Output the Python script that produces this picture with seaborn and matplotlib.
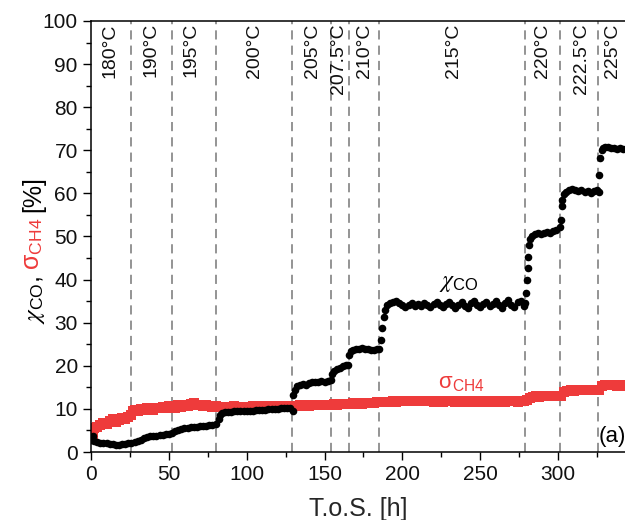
import numpy as np
import pandas as pd
import matplotlib
matplotlib.use("Agg")
import matplotlib.pyplot as plt
from matplotlib.transforms import IdentityTransform, blended_transform_factory
from matplotlib.ticker import MultipleLocator
import seaborn as sns

# ---------------- data ----------------
t_co = [0, 1, 2, 4, 6, 8, 10, 12, 14, 16, 18, 20, 22, 24, 26,
        28, 30, 32, 34, 36, 38, 40, 42, 44, 46, 48, 50, 52,
        54, 56, 58, 60, 62, 64, 66, 68, 70, 72, 74, 76, 78, 80,
        82, 83, 84, 86, 88, 90, 92, 94, 96, 98, 100, 102, 104, 106, 108, 110,
        112, 114, 116, 118, 120, 122, 124, 126, 128,
        129.5, 130, 131, 132, 134, 136, 138, 140, 142, 144, 146, 148, 150, 152, 154,
        155, 156, 158, 160, 162, 164, 165,
        166, 167, 168, 170, 172, 174, 176, 178, 180, 182, 184, 185,
        186, 187, 188, 189, 190, 192, 194, 196, 198, 200, 202, 204, 206, 208, 210,
        212, 214, 216, 218, 220, 222, 224, 226, 228, 230, 232, 234, 236, 238, 240,
        242, 244, 246, 248, 250, 252, 254, 256, 258, 260, 262, 264, 266, 268, 270,
        272, 274, 276, 278, 279,
        279.5, 280, 280.5, 281, 281.5, 282, 283, 285, 287, 289, 291, 293, 295, 297, 299, 301,
        301.8, 302.3, 302.8, 303.5, 305, 307, 309, 311, 313, 315, 317, 319, 321, 323, 325,
        326, 326.5, 327, 328, 329, 330, 332, 334, 336, 338, 340, 342, 344]
co = [2.8, 3.6, 2.6, 2.3, 2.2, 2.0, 2.1, 1.9, 1.8, 1.7, 1.6, 1.8, 1.9, 2.0, 2.1,
      2.3, 2.6, 2.9, 3.2, 3.4, 3.6, 3.6, 3.8, 3.9, 4.0, 4.1, 4.2, 4.3,
      4.8, 5.1, 5.3, 5.5, 5.6, 5.7, 5.8, 5.9, 6.0, 6.0, 6.1, 6.2, 6.3, 6.4,
      7.6, 8.5, 9.0, 9.2, 9.3, 9.3, 9.4, 9.4, 9.5, 9.5, 9.6, 9.6, 9.5, 9.7, 9.7, 9.8,
      9.8, 9.9, 9.9, 10.0, 10.0, 10.1, 10.1, 10.2, 10.1,
      9.4, 13.2, 14.5, 15.2, 15.5, 15.8, 15.6, 16.0, 16.2, 16.3, 16.2, 16.4, 16.3, 16.4, 16.6,
      18.0, 18.8, 19.3, 19.6, 19.9, 20.1, 20.3,
      22.5, 23.4, 23.6, 23.8, 24.0, 24.1, 23.9, 23.8, 23.7, 23.6, 23.8, 24.0,
      26.0, 28.7, 31.4, 33.0, 34.1, 34.6, 34.8, 35.0, 34.5, 34.0, 33.7, 34.2, 34.5, 33.9, 34.3,
      33.8, 34.6, 34.0, 33.6, 34.4, 34.8, 34.1, 33.7, 34.3, 34.9, 34.0, 33.5, 34.2, 34.8, 33.9,
      33.4, 34.5, 35.0, 34.1, 33.6, 34.3, 34.9, 33.8, 34.4, 35.1, 34.0, 33.5, 34.6, 35.2, 34.1,
      33.6, 34.8, 35.0, 33.8, 34.5,
      37.0, 40.0, 42.7, 45.3, 48.0, 49.5, 50.2, 50.6, 50.8, 50.5, 50.9, 51.0, 50.8, 51.2, 51.5, 52.3,
      53.8, 57.0, 58.5, 59.8, 60.3, 60.8, 61.0, 60.7, 60.5, 60.9, 60.4, 60.6, 60.2, 60.5, 60.8,
      60.4, 64.3, 68.2, 70.0, 70.6, 70.8, 70.7, 70.5, 70.6, 70.4, 70.5, 70.3, 70.4]

t_ch4 = [0, 1, 2, 4, 6, 8, 10, 12, 14, 16, 18, 20, 22, 24, 26,
         27, 28, 30, 32, 34, 36, 38, 40, 42, 44, 46, 48, 50, 52,
         54, 56, 58, 60, 62, 64, 66, 68, 70, 72, 74, 76, 78, 80,
         82, 84, 86, 88, 90, 92, 94, 96, 98, 100, 102, 104, 106, 108, 110,
         112, 114, 116, 118, 120, 122, 124, 126, 128, 130, 132, 134, 136, 138, 140,
         142, 144, 146, 148, 150, 152, 154, 156, 158, 160, 162, 164, 166, 168, 170,
         172, 174, 176, 178, 180, 182, 184, 186, 188, 190, 192, 194, 196, 198, 200,
         202, 204, 206, 208, 210, 212, 214, 216, 218, 220, 222, 224, 226, 228, 230,
         232, 234, 236, 238, 240, 242, 244, 246, 248, 250, 252, 254, 256, 258, 260,
         262, 264, 266, 268, 270, 272, 274, 276, 278, 280, 282, 284, 286, 288, 290,
         292, 294, 296, 298, 300, 302, 304, 306, 308, 310, 312, 314, 316, 318, 320,
         322, 324, 326, 328, 330, 332, 334, 336, 338, 340, 342, 344]
ch4 = [5.0, 4.2, 5.6, 5.8, 6.2, 6.8, 6.5, 7.2, 7.6, 7.0, 7.4, 8.0, 7.6, 8.2, 8.6,
       9.6, 9.8, 9.4, 10.0, 9.7, 10.2, 10.0, 9.8, 10.3, 10.1, 10.5, 10.2, 10.6, 10.4,
       10.3, 10.8, 10.5, 10.9, 10.6, 11.1, 11.4, 10.8, 11.0, 10.6, 10.9, 10.7, 10.5, 10.6,
       10.4, 10.5, 10.3, 10.5, 10.4, 10.6, 10.4, 10.5, 10.3, 10.5, 10.4, 10.6, 10.5, 10.4, 10.6,
       10.5, 10.6, 10.4, 10.6, 10.5, 10.6, 10.7, 10.5, 10.6, 10.7, 10.6, 10.8, 10.7, 10.8, 10.6,
       10.9, 10.8, 10.9, 10.8, 11.0, 10.9, 11.0, 11.1, 11.0, 11.1, 11.2, 11.1, 11.2, 11.3, 11.2,
       11.3, 11.2, 11.4, 11.3, 11.4, 11.3, 11.5, 11.6, 11.7, 11.6, 11.7, 11.8, 11.7, 11.8, 11.9,
       11.8, 11.9, 11.8, 11.9, 11.8, 11.9, 11.8, 11.9, 11.8, 11.7, 11.9, 11.8, 11.7, 11.9, 11.8,
       11.9, 11.7, 11.8, 11.7, 11.9, 11.8, 11.7, 11.8, 11.9, 11.7, 11.8, 11.7, 11.9, 11.8, 11.7,
       11.8, 11.9, 11.7, 11.8, 11.9, 11.8, 11.7, 11.9, 11.8, 12.0, 12.6, 12.8, 12.9, 12.8, 12.9,
       13.0, 12.9, 13.0, 13.1, 13.0, 13.1, 13.9, 14.2, 14.3, 14.2, 14.3, 14.4, 14.3, 14.4, 14.3,
       14.4, 14.5, 14.5, 15.3, 15.6, 15.5, 15.6, 15.5, 15.4, 15.5, 15.4, 15.3]

step_bounds = [26, 52, 80.5, 129, 154, 165.5, 185, 279, 301.5, 325.5]
temp_labels = ['180°C', '190°C', '195°C', '200°C', '205°C', '207.5°C', '210°C',
               '215°C', '220°C', '222.5°C', '225°C']
temp_label_x = [12, 38.5, 64, 105, 142, 159, 175.5, 233, 290, 315, 335]

RED = '#ee3b3b'

# ---------------- style ----------------
sns.set_style("ticks")
plt.rcParams['font.family'] = ['Liberation Sans', 'DejaVu Sans']
plt.rcParams['mathtext.fontset'] = 'stix'

fig = plt.figure(figsize=(6.25, 5.2), dpi=100)
ax = fig.add_axes([91 / 625, 1 - 452 / 520, 1 - 91 / 625, (452 - 21) / 520])

df_co = pd.DataFrame({'t': t_co, 'v': co})
df_ch4 = pd.DataFrame({'t': t_ch4, 'v': ch4})

for b in step_bounds:
    ax.axvline(b, color='#777777', lw=1.1, ls=(0, (6, 4)), zorder=1)

sns.scatterplot(data=df_ch4, x='t', y='v', ax=ax, color=RED, marker='s', s=42,
                linewidth=0, zorder=2)
sns.scatterplot(data=df_co, x='t', y='v', ax=ax, color='black', marker='o', s=30,
                linewidth=0, zorder=3)

ax.set_xlim(0, 343)
ax.set_ylim(0, 100)
ax.xaxis.set_major_locator(MultipleLocator(50))
ax.xaxis.set_minor_locator(MultipleLocator(25))
ax.yaxis.set_major_locator(MultipleLocator(10))
ax.yaxis.set_minor_locator(MultipleLocator(5))
ax.tick_params(axis='both', which='major', direction='out', length=6, width=1.0,
               labelsize=15, color='black', labelcolor='#111111')
ax.tick_params(axis='both', which='minor', direction='out', length=3.5, width=1.0,
               color='black')
for side in ['left', 'bottom', 'top']:
    ax.spines[side].set_linewidth(1.1)
    ax.spines[side].set_color('black')
ax.spines['right'].set_visible(False)
ax.set_xlabel('T.o.S. [h]', fontsize=18, labelpad=9)
ax.set_ylabel('')

trans = blended_transform_factory(ax.transData, ax.transAxes)
for lbl, xp in zip(temp_labels, temp_label_x):
    ax.text(xp, 0.995, lbl, transform=trans, rotation=90, ha='center', va='top',
            fontsize=14, color='#111111')

ax.text(236, 39.2, r'$\chi_\mathregular{CO}$', fontsize=17, color='black',
        ha='center', va='center')
ax.text(238, 16.2, r'σ$_\mathregular{CH4}$', fontsize=16, color=RED,
        ha='center', va='center')
ax.text(326, 3.7, '(a)', fontsize=16, color='black', ha='left', va='center',
        clip_on=False)

# multi-coloured y label
renderer = fig.canvas.get_renderer()
parts = [(r'$\chi_\mathregular{CO}$,', 'black'), (r'σ$_\mathregular{CH4}$', RED),
         ('[%]', 'black')]
gaps = [6, 5]
texts, lens = [], []
for s, c in parts:
    t = fig.text(0, 0, s, color=c, fontsize=18, rotation=90, rotation_mode='anchor',
                 ha='left', va='baseline', transform=IdentityTransform())
    bb = t.get_window_extent(renderer)
    texts.append(t)
    lens.append(bb.height)
total = sum(lens) + sum(gaps)
fig_h = fig.get_figheight() * fig.dpi
y = (fig_h - 250) - total / 2
x_base = 40
for i, (t, l) in enumerate(zip(texts, lens)):
    t.set_position((x_base, y))
    y += l + (gaps[i] if i < len(gaps) else 0)

fig.savefig('out.png', dpi=100)
